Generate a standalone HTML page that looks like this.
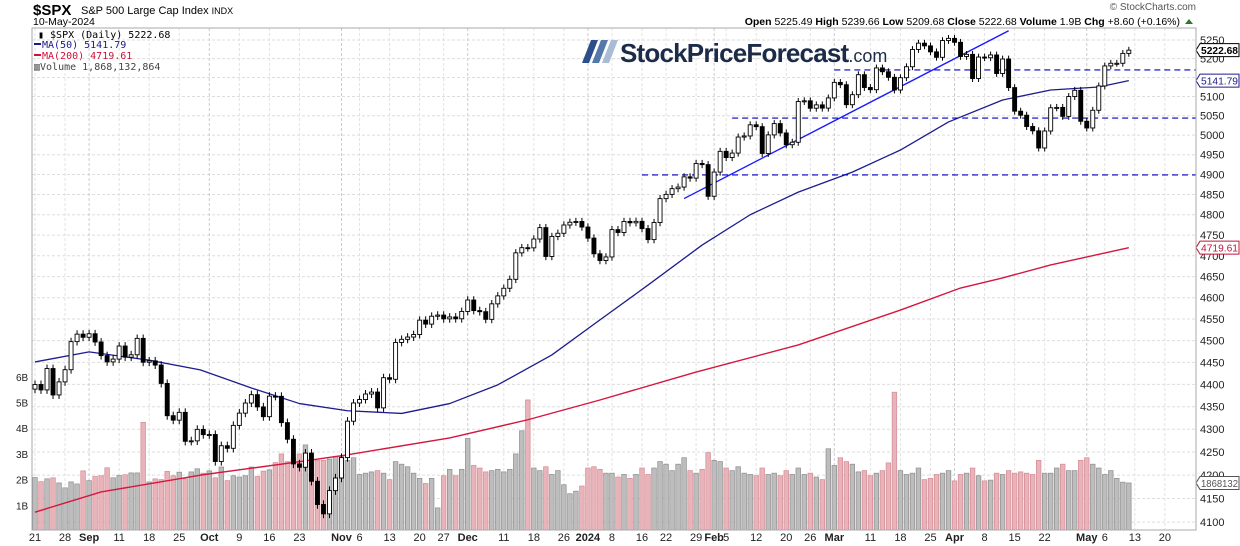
<!DOCTYPE html>
<html><head><meta charset="utf-8"><style>
html,body{margin:0;padding:0;background:#fff}
svg{display:block;font-family:"Liberation Sans",sans-serif}
</style></head><body>
<svg id="chart" width="1240" height="546" viewBox="0 0 1240 546">
<rect x="0" y="0" width="1240" height="546" fill="#fff"/>
<g id="grid"></g>
<g id="vol"></g>
<g id="lines"></g>
<g id="candles"></g>
<g id="axes"></g>
<rect x="32" y="28" width="1164" height="502" fill="none" stroke="#aaa"/>
<text x="33" y="15" font-size="15" font-weight="bold">$SPX</text>
<text x="81" y="14" font-size="11">S&amp;P 500 Large Cap Index <tspan font-size="9">INDX</tspan></text>
<text x="33" y="25" font-size="10.5">10-May-2024</text>
<text x="1196" y="10" font-size="10" fill="#555" text-anchor="end">© StockCharts.com</text>
<text x="1180" y="25" font-size="10.5" text-anchor="end"><tspan font-weight="bold">Open</tspan> 5225.49 <tspan font-weight="bold">High</tspan> 5239.66 <tspan font-weight="bold">Low</tspan> 5209.68 <tspan font-weight="bold">Close</tspan> 5222.68 <tspan font-weight="bold">Volume</tspan> 1.9B <tspan font-weight="bold">Chg</tspan> +8.60 (+0.16%)</text>
<path d="M1185 24 L1189 19 L1193 24 Z" fill="#2a7a2a"/>
<g font-family="'DejaVu Sans Mono','Liberation Mono',monospace" font-size="10">
<text x="38" y="38">▮ $SPX (Daily) 5222.68</text>
<rect x="34" y="43" width="7" height="2" fill="#1a1a8c"/><text x="42" y="48" fill="#1a1a8c">MA(50) 5141.79</text>
<rect x="34" y="54" width="7" height="2" fill="#d0103a"/><text x="42" y="59" fill="#d0103a">MA(200) 4719.61</text>
<text x="34" y="70" fill="#444">▥Volume 1,868,132,864</text>
</g>
<g>
<polygon points="582,63 589,63 598,40 591,40" fill="#2c4f8c"/>
<polygon points="592,63 599,63 608,40 601,40" fill="#5577aa"/>
<polygon points="602,63 609,63 618,40 611,40" fill="#aabcd4"/>
<text x="620" y="62" font-size="26" font-weight="bold" fill="#1c2c48" letter-spacing="-0.8">StockPriceForecast<tspan font-size="18" font-weight="normal" letter-spacing="0">.com</tspan></text>
</g>
</svg>
<script>
const closes=[
4399.8,4387.6,4436.0,4376.3,4405.7,4433.3,4497.6,4514.9,4507.7,
4515.8,4496.8,4465.5,4451.1,4457.5,4487.5,4461.9,4467.4,4505.1,4450.3,4453.5,4443.9,4402.2,4330.0,4320.1,4337.4,4273.5,4274.5,4299.7,4288.1,
4288.4,4229.5,4263.8,4258.2,4308.5,4335.7,4358.2,4376.9,4349.6,4327.8,4373.6,4373.2,4314.6,4278.0,4224.2,4217.0,4247.7,4186.8,4137.2,4117.4,4166.8,4193.8,
4237.9,4317.8,4358.3,4366.0,4378.4,4382.8,4347.4,4415.2,4411.6,4495.7,4502.9,4508.2,4514.0,4547.4,4538.2,4556.6,4559.3,4550.4,4554.9,4550.6,4567.8,
4594.6,4569.8,4567.2,4549.3,4585.6,4604.4,4622.4,4643.7,4707.1,4719.6,4719.2,4740.6,4768.4,4698.4,4746.8,4754.6,4774.8,4781.6,4783.4,4769.8,
4742.8,4704.8,4688.7,4697.2,4763.5,4756.5,4783.5,4780.2,4783.8,4766.0,4739.2,4780.9,4839.8,4850.4,4864.6,4868.6,4894.2,4891.0,4927.9,4925.0,4845.7,
4906.2,4958.6,4942.8,4954.2,4995.1,4997.9,5026.6,5021.8,4953.2,5000.6,5029.7,5005.6,4975.5,4981.8,5087.0,5088.8,5069.5,5078.2,5069.8,5096.3,
5137.1,5131.0,5078.7,5104.8,5157.4,5123.7,5117.9,5175.3,5165.3,5150.5,5117.1,5149.4,5178.5,5224.6,5241.5,5234.2,5218.2,5203.6,5248.5,5254.4,
5243.8,5205.8,5211.5,5147.2,5204.3,5202.4,5209.9,5160.6,5199.1,5123.4,5061.8,5051.4,5022.2,5011.1,4967.2,5010.6,5070.6,5071.6,5048.4,5100.0,5116.2,5035.7,
5018.4,5064.2,5127.8,5180.7,5187.7,5187.7,5214.1,5222.7];
const firstOpen=4389.4;
const volumes=[
2.08,1.92,2.03,2.07,1.87,1.68,1.91,1.83,2.34,
1.96,2.12,2.15,2.46,2.07,2.16,2.19,2.26,2.26,4.23,1.91,2.03,2.0,2.32,2.15,2.29,2.03,2.3,2.42,2.25,
2.34,2.07,2.49,1.96,2.15,2.1,2.15,2.49,2.12,2.33,2.38,2.66,3.0,2.7,2.85,3.0,3.35,2.7,2.75,2.75,2.8,2.9,
2.9,2.75,2.85,2.2,2.25,2.3,2.35,2.25,2.0,2.7,2.6,2.5,2.25,2.05,1.85,2.05,0.9,2.15,2.4,2.15,2.4,
3.6,2.55,2.45,2.3,2.35,2.4,2.3,2.4,3.0,3.9,5.1,2.45,2.35,2.5,2.2,2.35,1.8,1.45,1.55,1.75,
2.45,2.5,2.4,2.25,2.25,2.1,2.2,2.05,2.2,2.45,2.2,2.45,2.7,2.6,2.35,2.6,2.85,2.35,2.25,2.4,3.05,
2.75,2.7,2.45,2.35,2.5,2.25,2.2,2.15,2.45,2.2,2.25,2.15,2.35,2.2,2.45,2.2,2.25,2.1,2.0,3.2,
2.55,2.85,2.7,2.6,2.3,2.35,2.15,2.25,2.35,2.65,5.4,2.35,2.2,2.25,2.45,2.0,2.05,2.2,2.25,2.35,
1.95,2.2,2.25,2.45,2.15,1.95,1.98,2.25,2.2,2.35,2.25,2.3,2.25,2.2,2.75,2.25,2.25,2.45,2.6,2.35,2.35,2.75,
2.85,2.6,2.45,2.2,2.35,2.05,1.9,1.87];
const ma50Idx=[0,9,19,27.5,36,44,52,61,69,77,86,94,102,111,119,127,136,144,152,161,169,177,182];
const ma50Val=[4451,4474,4455,4433,4392,4357,4341,4335,4357,4399,4467,4548,4630,4726,4800,4856,4906,4962,5034,5091,5117,5125,5141.8];
const ma200Idx=[0,11,27.5,44,52,69,82,94,110,127,144,154,161,169,182];
const ma200Val=[4121,4164,4200,4229,4244,4281,4321,4365,4428,4490,4571,4623,4647,4678,4719.6];
const hLevels=[5170,5044,4899];
const hStartIdx=[133,116,101];
const trendIdx=[108,162];
const trendVal=[4840,5275];
const priceTicks=[5250,5200,5150,5100,5050,5000,4950,4900,4850,4800,4750,4700,4650,4600,4550,4500,4450,4400,4350,4300,4250,4200,4150,4100];
const volTicks=[1,2,3,4,5,6];
const holidays=["2023-09-04","2023-11-23","2023-12-25","2024-01-01","2024-01-15","2024-02-19","2024-03-29"];

const NS="http://www.w3.org/2000/svg";
const X0=35,DX=6.01;
function x(i){return X0+i*DX;}
function y(p){return 40+1950*(Math.log(5250)-Math.log(p));}
function yv(v){return 531-v*25.7;}
function el(t,a,parent){const e=document.createElementNS(NS,t);for(const k in a)e.setAttribute(k,a[k]);parent.appendChild(e);return e;}
const G=id=>document.getElementById(id);

const dates=[];let d=new Date(Date.UTC(2023,7,21));
while(dates.length<193){const w=d.getUTCDay();const s=d.toISOString().slice(0,10);if(w!==0&&w!==6&&!holidays.includes(s))dates.push(new Date(d));d=new Date(d.getTime()+86400000);}
const months=["Jan","Feb","Mar","Apr","May","Jun","Jul","Aug","Sep","Oct","Nov","Dec"];

priceTicks.forEach(p=>{
 const l=el('line',{x1:32,x2:1196,y1:y(p),y2:y(p),stroke:'#ddd','stroke-dasharray':'3,2'},G('grid'));
 
 
 const t=el('text',{x:1200,y:y(p)+4,'font-size':11,fill:'#222'},G('axes'));t.textContent=p;
 
 
});
volTicks.forEach(v=>{
 const t=el('text',{x:16,y:yv(v)+4,'font-size':10,fill:'#222'},G('axes'));t.textContent=v+'B';
 
 
});
const labels=[];
for(let i=0;i<dates.length;i++){
 const dt=dates[i],prev=dates[i-1];
 const newMonth=i>0&&prev.getUTCMonth()!==dt.getUTCMonth();
 const newWeek=i===0||dt.getUTCDay()<prev.getUTCDay()||(dt-prev)>86400000*3.5;
 if(newMonth){labels.push({i,txt:dt.getUTCMonth()===0?String(dt.getUTCFullYear()):months[dt.getUTCMonth()],bold:true});}
 else if(newWeek){labels.push({i,txt:String(dt.getUTCDate()),bold:false});}
}
const keep=labels.filter(L=>L.bold||!labels.some(B=>B.bold&&((x(B.i)-x(L.i)>0&&x(B.i)-x(L.i)<13)||(x(L.i)-x(B.i)>0&&x(L.i)-x(B.i)<8))));
keep.forEach(L=>{
 const xx=x(L.i);
 const gl=el('line',{x1:xx,x2:xx,y1:28,y2:530,stroke:L.bold?'#ccc':'#e2e2e2','stroke-dasharray':'3,2'},G('grid'));
 
 
 const t=el('text',{x:xx,y:541,'font-size':11,'text-anchor':'middle','font-weight':L.bold?'bold':'normal',fill:'#222'},G('axes'));
 t.textContent=L.txt;
 
 
});
volumes.forEach((v,i)=>{
 const prev=i?closes[i-1]:firstOpen;const down=closes[i]<prev;
 const r=el('rect',{x:x(i)-2.3,y:yv(v),width:4.6,height:531-yv(v)-1,fill:down?'#e8b4ba':'#bdbdbd',stroke:down?'#d48a94':'#8d8d8d','stroke-width':0.7},G('vol'));
 
 
});
function poly(idx,val,color,w,name){
 const pts=idx.map((k,j)=>x(k)+','+y(val[j])).join(' ');
 const p=el('polyline',{points:pts,fill:'none',stroke:color,'stroke-width':w,'stroke-linejoin':'round'},G('lines'));
 
 
}
poly(ma200Idx,ma200Val,'#d4173f',1.4,'ma200-line');
poly(ma50Idx,ma50Val,'#1c1c8e',1.3,'ma50-line');
hLevels.forEach((p,j)=>{
 const l=el('line',{x1:x(hStartIdx[j]),x2:1196,y1:y(p),y2:y(p),stroke:'#0000c8','stroke-width':1.1,'stroke-dasharray':'6,4'},G('lines'));
 
 
});
const tl=el('line',{x1:x(trendIdx[0]),y1:y(trendVal[0]),x2:x(trendIdx[1]),y2:y(trendVal[1]),stroke:'#1a1aff','stroke-width':1.4},G('lines'));


closes.forEach((c,i)=>{
 const o=i?closes[i-1]:firstOpen;
 const top=Math.max(o,c),bot=Math.min(o,c);
 const w=el('line',{x1:x(i),x2:x(i),y1:y(top+9),y2:y(bot-9),stroke:'#000','stroke-width':1},G('candles'));
 
 
 const h=Math.max(1,y(bot)-y(top));
 const b=el('rect',{x:x(i)-2,y:y(top),width:4,height:h,fill:c>=o?'#fff':'#000',stroke:'#000','stroke-width':0.9},G('candles'));
 
 
});
function tag(yy,txt,color,bold){
 const g=el('g',{},G('axes'));
 
 
 el('path',{d:`M1196 ${yy} L1200 ${yy-6.5} L1239 ${yy-6.5} L1239 ${yy+6.5} L1200 ${yy+6.5} Z`,fill:'#fff',stroke:color},g);
 const t=el('text',{x:1201,y:yy+4,'font-size':10.5,fill:bold?'#000':color,'font-weight':bold?'bold':'normal',textLength:37,lengthAdjust:'spacingAndGlyphs'},g);t.textContent=txt;
}
tag(y(closes[closes.length-1]),'5222.68','#000',true);
tag(y(ma50Val[ma50Val.length-1]),'5141.79','#1c1c8e',false);
tag(y(ma200Val[ma200Val.length-1]),'4719.61','#c0143a',false);
tag(yv(volumes[volumes.length-1]),'1868132','#555',false);
</script>
</body></html>
